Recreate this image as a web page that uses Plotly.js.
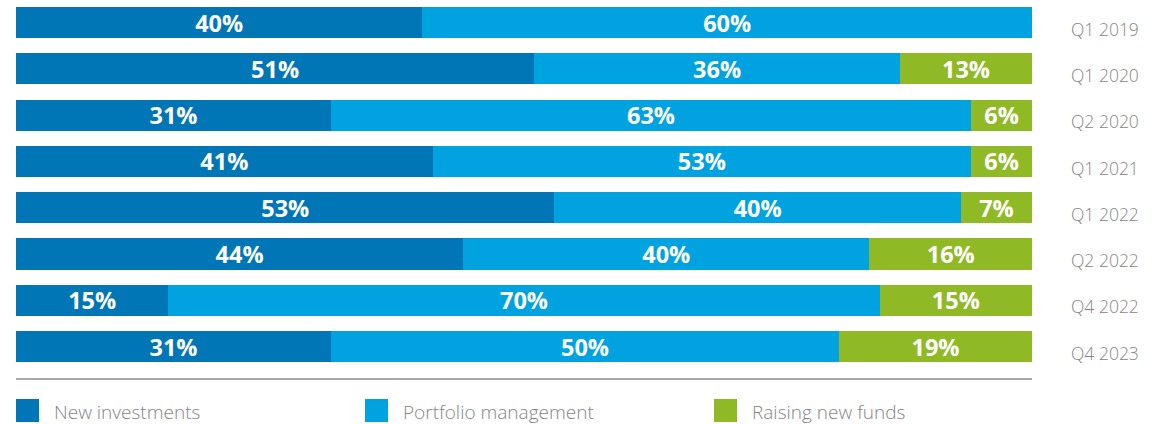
<!DOCTYPE html>
<html><head><meta charset="utf-8">
<script src="https://cdn.plot.ly/plotly-3.0.1.min.js"></script>
<style>html,body{margin:0;padding:0;background:#fff;}#chart{width:1162px;height:424px;}</style>
</head><body><div id="chart"></div>
<script>
const periods = ["Q1 2019","Q1 2020","Q2 2020","Q1 2021","Q1 2022","Q2 2022","Q4 2022","Q4 2023"];
const newInvestments = [40,51,31,41,53,44,15,31];
const portfolioManagement = [60,36,63,53,40,40,70,50];
const raisingNewFunds = [null,13,6,6,7,16,15,19];
const seriesNames = ["New investments","Portfolio management","Raising new funds"];
const colors = ["#0076b6","#00a3e0","#8fba25"];

const font = "'Open Sans', sans-serif";
const mk = (vals, i) => ({
  type: 'bar', orientation: 'h', name: seriesNames[i],
  y: periods, x: vals,
  marker: {color: colors[i], line: {width: 0}},
  width: 0.67,
  text: vals.map(v => v == null ? '' : v + '%'),
  textposition: 'inside', insidetextanchor: 'middle',
  textfont: {color: '#fff', size: 23.5, family: font, weight: 'bold'},
  hoverinfo: 'none', showlegend: false
});
const data = [mk(newInvestments,0), mk(portfolioManagement,1), mk(raisingNewFunds,2)];

const legX = [16, 365, 714];
const shapes = [{type:'line', xref:'paper', yref:'paper', x0:0, x1:1, y0:0, y1:0,
  line:{color:'#8c8c8c', width:1.5}}];
const annotations = [];
seriesNames.forEach((n,i) => {
  shapes.push({type:'rect', xref:'paper', yref:'paper',
    x0:(legX[i]-16)/1016, x1:(legX[i]+23-16)/1016,
    y0:-(399-379)/379, y1:-(422-379)/379, fillcolor:colors[i], line:{width:0}});
  annotations.push({xref:'paper', yref:'paper', x:(legX[i]+36-16)/1016, y:-(412-379)/379,
    xanchor:'left', yanchor:'middle', text:n, showarrow:false,
    font:{family:font, size:19, color:'#858585', weight:300}});
});

const layout = {
  width: 1162, height: 424,
  margin: {l:16, r:130, t:0, b:45},
  barmode: 'stack', bargap: 0.33,
  paper_bgcolor:'#fff', plot_bgcolor:'#fff',
  uniformtext: {mode:'show', minsize:23.5},
  xaxis: {range:[0,100], showgrid:false, zeroline:false, showticklabels:false, showline:false, fixedrange:true},
  yaxis: {type:'category', categoryorder:'array', categoryarray:periods,
    range:[7.70,-0.486], side:'right', showgrid:false, zeroline:false, showline:false,
    ticks:'', ticklabelstandoff:38, ticklabelshift:-7,
    tickfont:{family:font, size:17.5, color:'#858585', weight:300}},
  shapes: shapes, annotations: annotations, showlegend:false
};
Plotly.newPlot('chart', data, layout, {displayModeBar:false, staticPlot:true});
</script></body></html>
